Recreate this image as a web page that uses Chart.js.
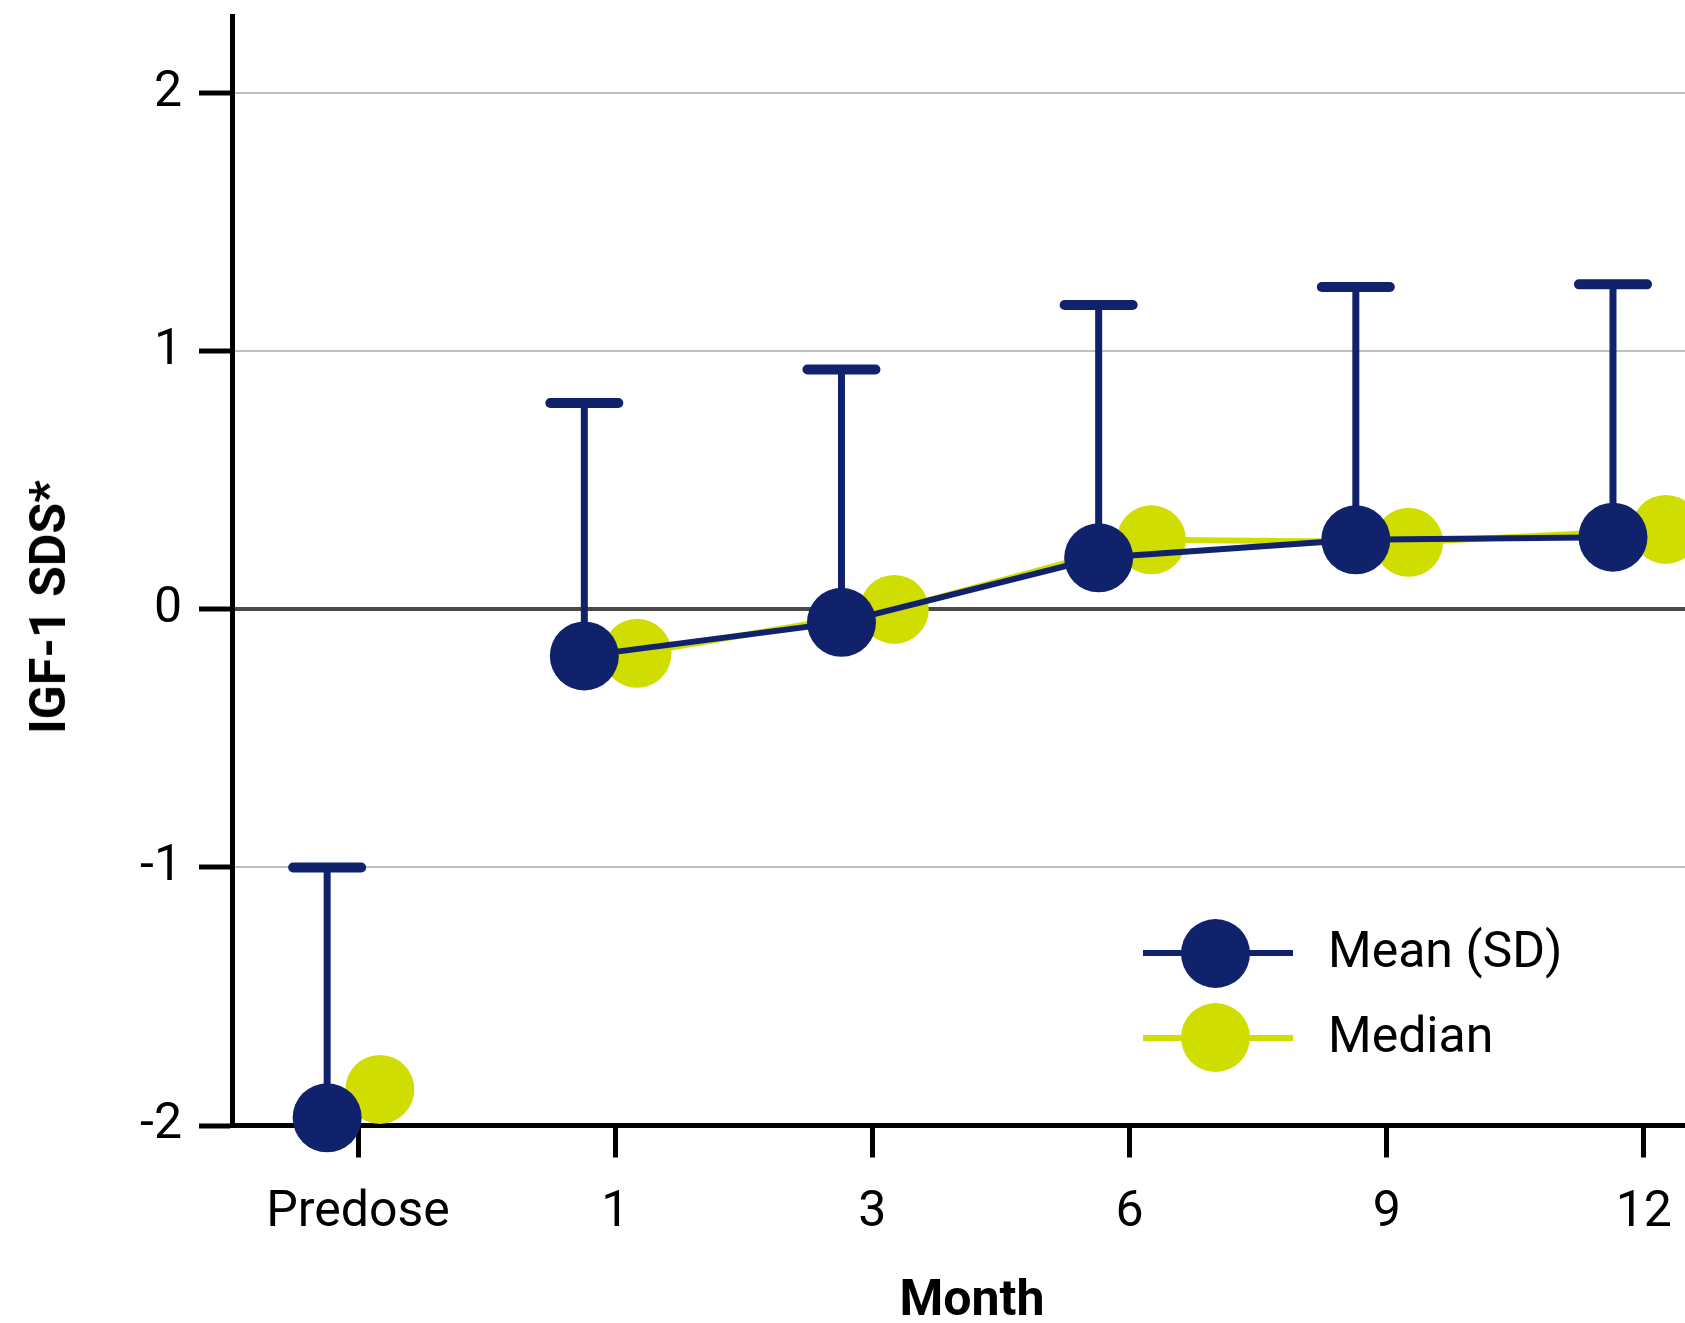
<!DOCTYPE html>
<html>
<head>
<meta charset="utf-8">
<script src="https://cdn.jsdelivr.net/npm/chart.js@4"></script>
<style>
  body { margin: 0; background: #fff; }
  #wrap { position: relative; width: 1685px; height: 1323px; overflow: hidden; font-family: Roboto, sans-serif; color: #000; }
  #wrap canvas { position: absolute; left: 0; top: 0; }
  .txt { position: absolute; font-size: 50px; line-height: 50px; white-space: nowrap; }
  .bold { font-weight: bold; }
  .leg-line { position: absolute; left: 1143px; width: 150px; height: 6px; }
  .leg-dot { position: absolute; left: 1181px; width: 69px; height: 69px; border-radius: 50%; }
</style>
</head>
<body>
<div id="wrap">
  <canvas id="chart" width="1685" height="1323"></canvas>
  <div class="txt bold" style="left:48px; top:607px; transform: translate(-50%, -50%) rotate(-90deg);">IGF-1 SDS*</div>
  <div class="txt bold" style="left:972px; top:1273px; transform: translateX(-50%);">Month</div>

  <div class="leg-line" style="top:950px; background:#10226c;"></div>
  <div class="leg-dot" style="top:919px; background:#10226c;"></div>
  <div class="txt" style="left:1328px; top:925px;">Mean (SD)</div>
  <div class="leg-line" style="top:1035px; background:#cfde00;"></div>
  <div class="leg-dot" style="top:1003px; background:#cfde00;"></div>
  <div class="txt" style="left:1328px; top:1010px;">Median</div>
</div>
<script>
// values
const categories = ['Predose', '1', '3', '6', '9', '12'];
const meanValues = [-1.97, -0.18, -0.05, 0.20, 0.27, 0.28];
const sdValues = [0.97, 0.98, 0.98, 0.98, 0.98, 0.98];
const medianValues = [-1.86, -0.17, 0.00, 0.27, 0.26, 0.31];
const yTicks = [-2, -1, 0, 1, 2];

const NAVY = '#10226c';
const LIME = '#cfde00';
// horizontal dodge so the two series sit either side of each month
const MEAN_DODGE = -0.12;
const MEDIAN_DODGE = 0.085;

Chart.defaults.font.family = 'Roboto, sans-serif';
Chart.defaults.font.size = 50;
Chart.defaults.color = '#000';

// upper SD whiskers, drawn behind the points
const errorBars = {
    id: 'errorBars',
    beforeDatasetsDraw(chart) {
        const { ctx, scales: { x, y } } = chart;
        ctx.save();
        ctx.strokeStyle = NAVY;
        meanValues.forEach((m, i) => {
            const px = x.getPixelForValue(i + MEAN_DODGE);
            const base = y.getPixelForValue(m);
            const top = y.getPixelForValue(m + sdValues[i]);
            ctx.lineCap = 'butt';
            ctx.lineWidth = 7;
            ctx.beginPath();
            ctx.moveTo(px, base);
            ctx.lineTo(px, top);
            ctx.stroke();
            ctx.lineCap = 'round';
            ctx.lineWidth = 10;
            ctx.beginPath();
            ctx.moveTo(px - 34, top);
            ctx.lineTo(px + 34, top);
            ctx.stroke();
        });
        ctx.restore();
    }
};

// predose is not joined to month 1
const hideFirst = color => c => c.p0DataIndex === 0 ? 'rgba(0,0,0,0)' : color;

// keep the plot area where the reference has it (no label overhang padding)
const noOverhang = scale => {
    scale.paddingTop = 0;
    scale.paddingBottom = 0;
    scale.paddingLeft = 0;
    scale.paddingRight = 0;
};

new Chart(document.getElementById('chart'), {
    type: 'line',
    data: {
        datasets: [{
            label: 'Mean (SD)',
            data: meanValues.map((v, i) => ({ x: i + MEAN_DODGE, y: v })),
            borderColor: NAVY,
            backgroundColor: NAVY,
            borderWidth: 6,
            pointRadius: 34.5,
            pointBorderWidth: 0,
            pointBackgroundColor: NAVY,
            segment: { borderColor: hideFirst(NAVY) },
            clip: false
        }, {
            label: 'Median',
            data: medianValues.map((v, i) => ({ x: i + MEDIAN_DODGE, y: v })),
            borderColor: LIME,
            backgroundColor: LIME,
            borderWidth: 6,
            pointRadius: 34.5,
            pointBorderWidth: 0,
            pointBackgroundColor: LIME,
            segment: { borderColor: hideFirst(LIME) },
            clip: false
        }]
    },
    options: {
        responsive: false,
        animation: false,
        layout: { autoPadding: false, padding: { top: 16, right: 0, left: 0, bottom: 0 } },
        plugins: {
            legend: { display: false },
            tooltip: { enabled: false }
        },
        scales: {
            x: {
                type: 'linear',
                min: -0.49,
                max: 5.16,
                afterBuildTicks: scale => { scale.ticks = categories.map((_, i) => ({ value: i })); },
                afterFit: scale => { scale.height = 197.5; noOverhang(scale); },
                ticks: {
                    padding: 26,
                    maxRotation: 0,
                    autoSkip: false,
                    callback: v => categories[v]
                },
                grid: {
                    drawOnChartArea: false,
                    drawTicks: true,
                    tickLength: 32,
                    tickWidth: 5,
                    tickColor: '#000'
                },
                border: { color: '#000', width: 5 }
            },
            y: {
                min: -2,
                max: 2.3,
                afterBuildTicks: scale => { scale.ticks = yTicks.map(v => ({ value: v })); },
                afterFit: scale => { scale.width = 232; noOverhang(scale); },
                ticks: {
                    padding: 17,
                    callback: v => String(v)
                },
                grid: {
                    color: c => c.tick.value === 0 ? '#4a4a4a' : (c.tick.value === -2 ? 'rgba(0,0,0,0)' : '#bfbfbf'),
                    lineWidth: c => c.tick.value === 0 ? 4 : 2,
                    tickLength: 33,
                    tickWidth: 5,
                    tickColor: '#000'
                },
                border: { color: '#000', width: 5 }
            }
        }
    },
    plugins: [errorBars]
});
</script>
</body>
</html>
